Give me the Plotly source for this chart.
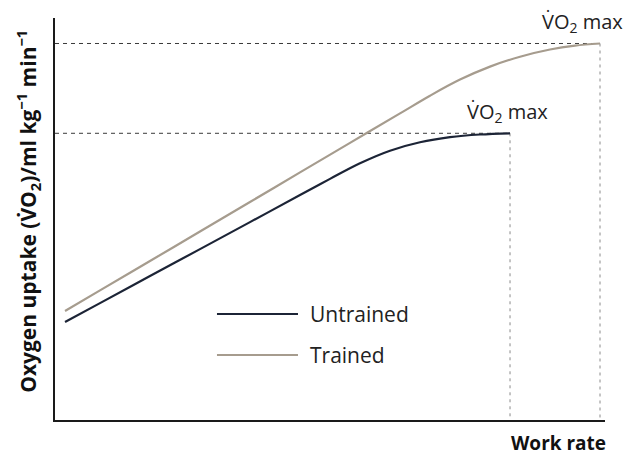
import plotly.graph_objects as go

# Data (work rate and VO2 in arbitrary units, 0-100)
untrained_x = [1.82, 8.18, 17.27, 26.36, 35.45, 44.55, 50.0, 55.45, 60.91, 66.36, 71.82, 77.27, 82.73]
untrained_y = [24.38, 29.08, 35.80, 42.51, 49.23, 55.95, 59.98, 63.86, 66.99, 69.08, 70.35, 71.02, 71.32]
trained_x = [1.82, 8.18, 17.27, 26.36, 35.45, 44.55, 53.64, 62.73, 68.18, 73.64, 79.09,
             84.55, 90.0, 94.55, 99.09]
trained_y = [27.11, 32.24, 39.55, 46.89, 54.23, 61.59, 68.93, 76.27, 80.67, 84.68, 87.91,
             90.37, 92.16, 93.13, 93.66]
series_names = ["Untrained", "Trained"]
series_colors = ["#1c2436", "#a69c8e"]
vo2_label = "V\u0307O<sub>2</sub> max"
y_title = "Oxygen uptake (V\u0307O<sub>2</sub>)/ml kg<sup>\u22121</sup> min<sup>\u22121</sup>"
x_title = "Work rate"

FONT = "Open Sans"
fig = go.Figure()

series = [(untrained_x, untrained_y), (trained_x, trained_y)]
for (xs, ys) in series:
    xe, ye = xs[-1], ys[-1]
    fig.add_trace(go.Scatter(x=[0, xe], y=[ye, ye], mode="lines",
                             line=dict(color="#3a3a3a", width=1, dash="4px,4px"),
                             showlegend=False, hoverinfo="skip"))
    fig.add_trace(go.Scatter(x=[xe, xe], y=[ye, 0], mode="lines",
                             line=dict(color="#8a8a8a", width=1, dash="3px,4px"),
                             showlegend=False, hoverinfo="skip"))

for (xs, ys), col, name in zip(series, series_colors, series_names):
    fig.add_trace(go.Scatter(x=xs, y=ys, mode="lines", name=name,
                             line=dict(color=col, width=2.2, shape="spline", smoothing=1),
                             showlegend=False))

# VO2 max labels (pixel offsets from each curve's end point)
label_shift = [(-3, 21), (-18, 21)]
for (xs, ys), (dx, dy) in zip(series, label_shift):
    fig.add_annotation(x=xs[-1], y=ys[-1], xref="x", yref="y", text=vo2_label,
                       showarrow=False, xanchor="center", yanchor="middle",
                       xshift=dx, yshift=dy,
                       font=dict(family=FONT, size=20, color="#222222"))

# manual legend
leg_y = [0.2637, 0.1617]
for ly, col, name in zip(leg_y, series_colors, series_names):
    fig.add_shape(type="line", xref="paper", yref="paper", x0=0.2945, x1=0.4418,
                  y0=ly, y1=ly, line=dict(color=col, width=2.2))
    fig.add_annotation(x=0.46, y=ly, xref="paper", yref="paper", text=name,
                       showarrow=False, xanchor="left", yanchor="middle",
                       font=dict(family=FONT, size=21, color="#222222"))

fig.add_annotation(x=-0.049, y=0.518, xref="paper", yref="paper", text="<b>" + y_title + "</b>",
                   textangle=-90, showarrow=False, xanchor="center", yanchor="middle",
                   font=dict(family=FONT, size=21, color="#111111"))
fig.add_annotation(x=0.915, y=-0.058, xref="paper", yref="paper", text="<b>" + x_title + "</b>",
                   showarrow=False, xanchor="center", yanchor="middle",
                   font=dict(family=FONT, size=19, color="#111111"))

# page has an 8px body margin, so the figure is sized to fill the rest of the window
fig.update_layout(
    width=627, height=447,
    margin=dict(l=47, r=30, t=10, b=35),
    paper_bgcolor="white", plot_bgcolor="white",
    showlegend=False,
)
fig.update_xaxes(range=[0, 100], showline=True, linecolor="#1a1a1a", linewidth=2,
                 showgrid=False, zeroline=False, showticklabels=False, ticks="")
fig.update_yaxes(range=[0, 100], showline=True, linecolor="#1a1a1a", linewidth=2,
                 showgrid=False, zeroline=False, showticklabels=False, ticks="")

fig.write_html("out.html")
